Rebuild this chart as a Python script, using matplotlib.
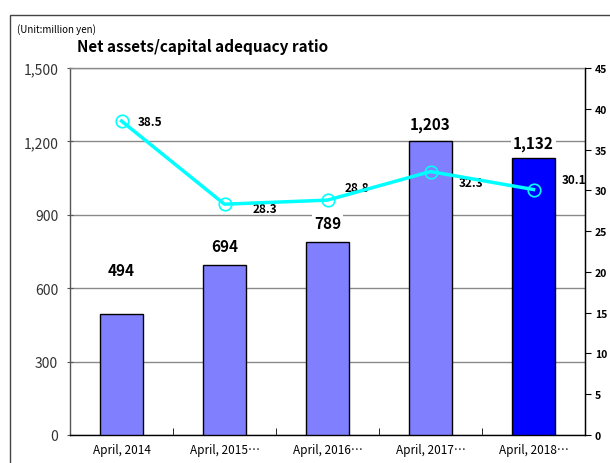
import matplotlib
matplotlib.use("Agg")
import matplotlib.pyplot as plt
from matplotlib.patches import Rectangle
import numpy as np

plt.rcParams['font.family'] = ['Noto Sans CJK JP', 'DejaVu Sans']

# data
categories = ["April, 2014", "April, 2015\u2026", "April, 2016\u2026", "April, 2017\u2026", "April, 2018\u2026"]
net_assets = [494, 694, 789, 1203, 1132]
adequacy_ratio = [38.5, 28.3, 28.8, 32.3, 30.1]

bar_colors = ["#8080ff"] * 4 + ["#0000ff"]
# label offsets in points (dx, dy) for the ratio labels, dy for bar labels
ratio_offsets = [(12, 0), (20, -3), (12, 9), (20, -8), (20, 7)]
bar_label_dy = [26, 8, 8, 6, 5]

fig = plt.figure(figsize=(6.1, 4.64), dpi=100)
ax = fig.add_axes([70 / 610, 28 / 464, 515 / 610, 367 / 464])

x = np.arange(len(categories))
ax.bar(x, net_assets, width=0.42, color=bar_colors, edgecolor="black", linewidth=1, zorder=3)

ax.set_xlim(-0.5, len(categories) - 0.5)
ax.set_ylim(0, 1500)
ax.set_yticks(range(0, 1501, 300))
ax.set_yticklabels([f"{v:,}" for v in range(0, 1501, 300)], fontsize=10, color="#333333")
ax.yaxis.grid(True, color="#8a8a8a", linewidth=1)
ax.set_axisbelow(True)
ax.tick_params(axis="y", direction="inout", length=5, color="#555555", pad=6)

ax.set_xticks(x)
ax.set_xticklabels(categories, fontsize=8.5)
ax.set_xticks(np.arange(0.5, len(categories) - 0.5, 1), minor=True)
ax.tick_params(axis="x", which="major", length=0, pad=6)
ax.tick_params(axis="x", which="minor", direction="in", length=5)

for side, col in [("left", "#555555"), ("bottom", "black"), ("top", "#8a8a8a"), ("right", "black")]:
    ax.spines[side].set_color(col)
    ax.spines[side].set_linewidth(1)

for xi, v, dy in zip(x, net_assets, bar_label_dy):
    ax.annotate(f"{v:,}", (xi, v), xytext=(0, dy), textcoords="offset points",
                ha="center", va="bottom", fontsize=11, fontweight="bold",
                bbox=dict(facecolor="white", edgecolor="none", pad=1.5), zorder=5)

ax2 = ax.twinx()
ax2.set_ylim(0, 45)
ax2.set_yticks(range(0, 46, 5))
ax2.tick_params(axis="y", direction="out", length=4, labelsize=7.5, pad=3)
for lab in ax2.get_yticklabels():
    lab.set_fontweight("bold")
for side in ["left", "bottom", "top"]:
    ax2.spines[side].set_visible(False)
ax2.spines["right"].set_color("black")

ax2.plot(x, adequacy_ratio, color="#00ffff", linewidth=2.5, marker="o", markersize=9,
         markerfacecolor="none", markeredgecolor="#00ffff", markeredgewidth=1.2, zorder=4)
for xi, v, (dx, dy) in zip(x, adequacy_ratio, ratio_offsets):
    ax2.annotate(f"{v}", (xi, v), xytext=(dx, dy), textcoords="offset points",
                 ha="left", va="center", fontsize=8.5, fontweight="bold")

fig.text(17 / 610, 1 - 30 / 464, "(Unit:million yen)", fontsize=7, va="center")
fig.text(77 / 610, 1 - 47 / 464, "Net assets/capital adequacy ratio", fontsize=11,
         fontweight="bold", va="center")

fig.patches.append(Rectangle((10 / 610, -0.1), 1.2, 1.1 - 16 / 464, transform=fig.transFigure,
                             fill=False, edgecolor="#444444", linewidth=1))

fig.savefig("out.png", dpi=100)
